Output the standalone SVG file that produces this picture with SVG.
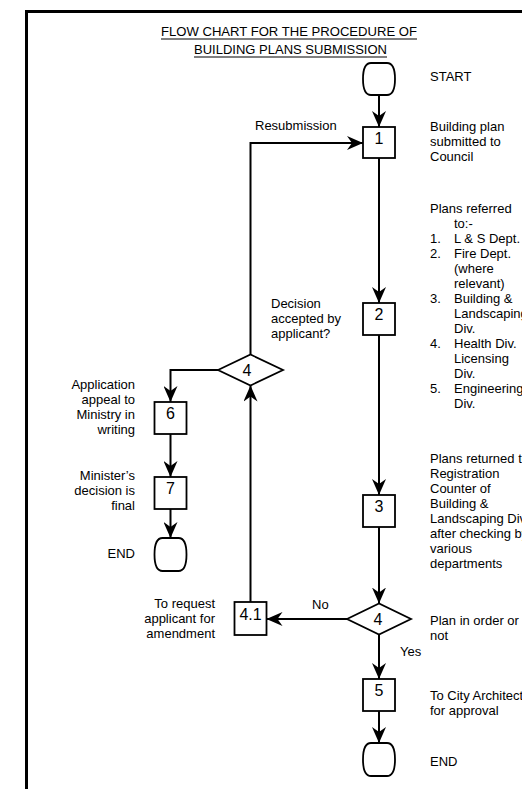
<svg xmlns="http://www.w3.org/2000/svg" width="522" height="789" viewBox="0 0 522 789">
<style>
.t{font-family:"Liberation Sans",Arial,sans-serif;font-size:13px;fill:#000}
.e{text-anchor:end}
.n{font-family:"Liberation Sans",Arial,sans-serif;font-size:16px;fill:#000;text-anchor:middle}
.ttl{font-family:"Liberation Sans",Arial,sans-serif;font-size:13.5px;fill:#000;text-anchor:middle}
.box{fill:#fff;stroke:#000;stroke-width:1.8}
.c{fill:none;stroke:#000;stroke-width:2}
</style>
<defs>
<marker id="ah" markerUnits="userSpaceOnUse" markerWidth="16" markerHeight="14" viewBox="0 0 16 14" refX="16" refY="7" orient="auto">
<path d="M0,0 L16,7 L0,14 L5,7 Z" fill="#000"/>
</marker>
</defs>
<rect width="522" height="789" fill="#fff"/>
<path d="M26.5,789 V11.5 H522" fill="none" stroke="#000" stroke-width="3"/>
<g id="title">
<text class="ttl" x="289" y="36" textLength="256" lengthAdjust="spacingAndGlyphs">FLOW CHART FOR THE PROCEDURE OF</text>
<text class="ttl" x="290.5" y="54" textLength="193" lengthAdjust="spacingAndGlyphs">BUILDING PLANS SUBMISSION</text>
<line x1="161" y1="39" x2="417" y2="39" stroke="#000" stroke-width="1.2"/>
<line x1="194" y1="57" x2="387" y2="57" stroke="#000" stroke-width="1.2"/>
</g>
<g id="connectors">
<line class="c" x1="379" y1="95" x2="379" y2="127" marker-end="url(#ah)"/>
<line class="c" x1="379" y1="158" x2="379" y2="303" marker-end="url(#ah)"/>
<line class="c" x1="379" y1="335" x2="379" y2="495" marker-end="url(#ah)"/>
<line class="c" x1="379" y1="527" x2="379" y2="603.5" marker-end="url(#ah)"/>
<line class="c" x1="379" y1="634.5" x2="379" y2="679" marker-end="url(#ah)"/>
<line class="c" x1="379" y1="711" x2="379" y2="743" marker-end="url(#ah)"/>
<line class="c" x1="347" y1="619" x2="266.5" y2="619" marker-end="url(#ah)"/>
<line class="c" x1="250.5" y1="602" x2="250.5" y2="385.5" marker-end="url(#ah)"/>
<path class="c" d="M250.5,354.5 V143 H363" marker-end="url(#ah)"/>
<path class="c" d="M218,370 H170.5 V402" marker-end="url(#ah)"/>
<line class="c" x1="170.5" y1="434" x2="170.5" y2="477" marker-end="url(#ah)"/>
<line class="c" x1="170.5" y1="509" x2="170.5" y2="538" marker-end="url(#ah)"/>
<text class="t" x="255" y="130">Resubmission</text>
<text class="t" x="312" y="609">No</text>
<text class="t" x="400" y="656">Yes</text>
</g>
<g id="start">
<path class="box" d="M371,63 H387 C393,63 395,70 395,79 C395,88 393,95 387,95 H371 C365,95 363,88 363,79 C363,70 365,63 371,63 Z"/>
<text class="t" x="430" y="81">START</text>
</g>
<g id="step1">
<rect class="box" x="363" y="127" width="32" height="31"/>
<text class="n" x="379" y="144">1</text>
<text class="t" x="430" y="131"><tspan x="430">Building plan</tspan><tspan x="430" dy="15">submitted to</tspan><tspan x="430" dy="15">Council</tspan></text>
</g>
<g id="step2">
<rect class="box" x="363" y="303" width="32" height="32"/>
<text class="n" x="379" y="320">2</text>
<text class="t" x="430" y="213"><tspan x="430">Plans referred</tspan><tspan x="454" dy="15">to:-</tspan><tspan x="430" dy="15">1.</tspan><tspan x="454">L &amp; S Dept.</tspan><tspan x="430" dy="15">2.</tspan><tspan x="454">Fire Dept.</tspan><tspan x="454" dy="15">(where</tspan><tspan x="454" dy="15">relevant)</tspan><tspan x="430" dy="15">3.</tspan><tspan x="454">Building &amp;</tspan><tspan x="454" dy="15">Landscaping</tspan><tspan x="454" dy="15">Div.</tspan><tspan x="430" dy="15">4.</tspan><tspan x="454">Health Div.</tspan><tspan x="454" dy="15">Licensing</tspan><tspan x="454" dy="15">Div.</tspan><tspan x="430" dy="15">5.</tspan><tspan x="454">Engineering</tspan><tspan x="454" dy="15">Div.</tspan></text>
</g>
<g id="step3">
<rect class="box" x="363" y="495" width="32" height="32"/>
<text class="n" x="379" y="512">3</text>
<text class="t" x="430" y="463"><tspan x="430">Plans returned to</tspan><tspan x="430" dy="15">Registration</tspan><tspan x="430" dy="15">Counter of</tspan><tspan x="430" dy="15">Building &amp;</tspan><tspan x="430" dy="15">Landscaping Div.</tspan><tspan x="430" dy="15">after checking by</tspan><tspan x="430" dy="15">various</tspan><tspan x="430" dy="15">departments</tspan></text>
</g>
<g id="decision4b">
<polygon class="box" points="347,619 379,603.5 411,619 379,634.5"/>
<text class="n" x="378" y="625">4</text>
<text class="t" x="430" y="625"><tspan x="430">Plan in order or</tspan><tspan x="430" dy="15">not</tspan></text>
</g>
<g id="step5">
<rect class="box" x="363" y="679" width="32" height="32"/>
<text class="n" x="379" y="696">5</text>
<text class="t" x="430" y="700"><tspan x="430">To City Architect</tspan><tspan x="430" dy="15">for approval</tspan></text>
</g>
<g id="end1">
<path class="box" d="M371,743 H387 C393,743 395,750 395,759.5 C395,769 393,776 387,776 H371 C365,776 363,769 363,759.5 C363,750 365,743 371,743 Z"/>
<text class="t" x="430" y="766">END</text>
</g>
<g id="step41">
<rect class="box" x="234.5" y="602" width="32" height="33"/>
<text class="n" x="250.5" y="619.5">4.1</text>
<text class="t e" x="215" y="608"><tspan x="215">To request</tspan><tspan x="215" dy="15">applicant for</tspan><tspan x="215" dy="15">amendment</tspan></text>
</g>
<g id="decision4a">
<polygon class="box" points="218,370 250.5,354.5 283,370 250.5,385.5"/>
<text class="n" x="247" y="376">4</text>
<text class="t" x="271" y="308"><tspan x="271">Decision</tspan><tspan x="271" dy="15">accepted by</tspan><tspan x="271" dy="15">applicant?</tspan></text>
</g>
<g id="step6">
<rect class="box" x="154.5" y="402" width="32" height="32"/>
<text class="n" x="170.5" y="419">6</text>
<text class="t e" x="135" y="389"><tspan x="135">Application</tspan><tspan x="135" dy="15">appeal to</tspan><tspan x="135" dy="15">Ministry in</tspan><tspan x="135" dy="15">writing</tspan></text>
</g>
<g id="step7">
<rect class="box" x="154.5" y="477" width="32" height="32"/>
<text class="n" x="170.5" y="494">7</text>
<text class="t e" x="135" y="480"><tspan x="135">Minister’s</tspan><tspan x="135" dy="15">decision is</tspan><tspan x="135" dy="15">final</tspan></text>
</g>
<g id="end2">
<path class="box" d="M162.5,538 H178.5 C184.5,538 186.5,545 186.5,554.5 C186.5,564 184.5,571 178.5,571 H162.5 C156.5,571 154.5,564 154.5,554.5 C154.5,545 156.5,538 162.5,538 Z"/>
<text class="t e" x="135" y="558">END</text>
</g>
</svg>
